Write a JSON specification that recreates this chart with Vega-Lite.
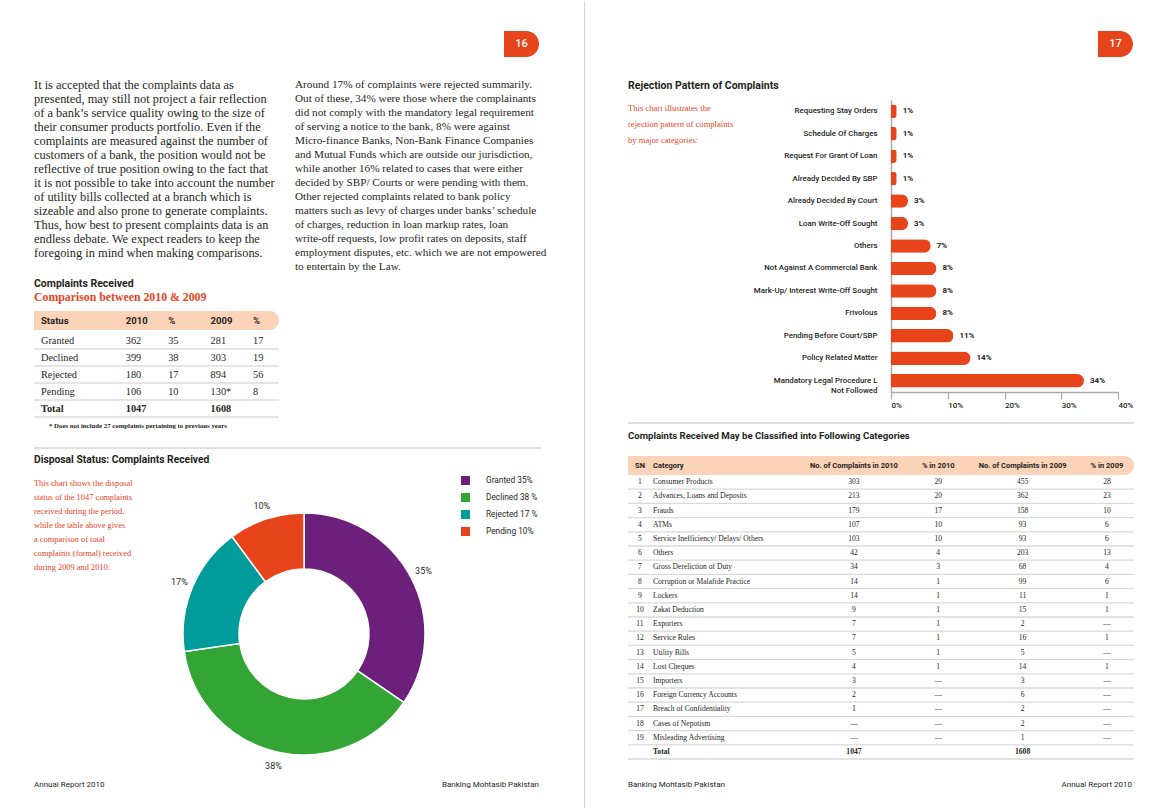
{
"$schema": "https://vega.github.io/schema/vega-lite/v6.json",
"background": "white",
"padding": {"left": 33, "top": 0, "right": 0, "bottom": 0},
"config": {"view": {"stroke": null}, "concat": {"spacing": 0}, "axis": {"labelFont": "Roboto"}, "legend": {"labelFont": "Roboto"}},
"spacing": 36.5,
"hconcat": [
{"spacing": 0, "vconcat": [
  {"width": 512, "height": 30, "data": {"values": []}, "mark": "point"},
  {"bounds": "flush", "spacing": 0, "hconcat": [
    {"width": 470, "height": 26, "data": {"values": []}, "mark": "point"},
    {"width": 35, "height": 26, "data": {"values": [{"page": "16"}]},
     "layer": [
       {"mark": {"type": "rect", "color": "#e8441c", "cornerRadiusTopRight": 13, "cornerRadiusBottomRight": 13}, "encoding": {}},
       {"mark": {"type": "text", "font": "Roboto", "fontSize": 11, "fontWeight": 500, "color": "white"}, "encoding": {"text": {"field": "page"}}}
     ]}
  ]},
  {"bounds": "flush", "spacing": 0, "vconcat": [
    {"width": 1, "height": 21, "data": {"values": []}, "mark": "point"},
    {"width": 507, "height": 196,
     "data": {"values": [
       {"col": "left", "line": 1, "text": "It is accepted that the complaints data as"},
       {"col": "left", "line": 2, "text": "presented, may still not project a fair reflection"},
       {"col": "left", "line": 3, "text": "of a bank’s service quality owing to the size of"},
       {"col": "left", "line": 4, "text": "their consumer products portfolio. Even if the"},
       {"col": "left", "line": 5, "text": "complaints are measured against the number of"},
       {"col": "left", "line": 6, "text": "customers of a bank, the position would not be"},
       {"col": "left", "line": 7, "text": "reflective of true position owing to the fact that"},
       {"col": "left", "line": 8, "text": "it is not possible to take into account the number"},
       {"col": "left", "line": 9, "text": "of utility bills collected at a branch which is"},
       {"col": "left", "line": 10, "text": "sizeable and also prone to generate complaints."},
       {"col": "left", "line": 11, "text": "Thus, how best to present complaints data is an"},
       {"col": "left", "line": 12, "text": "endless debate. We expect readers to keep the"},
       {"col": "left", "line": 13, "text": "foregoing in mind when making comparisons."},
       {"col": "right", "line": 1, "text": "Around 17% of complaints were rejected summarily."},
       {"col": "right", "line": 2, "text": "Out of these, 34% were those where the complainants"},
       {"col": "right", "line": 3, "text": "did not comply with the mandatory legal requirement"},
       {"col": "right", "line": 4, "text": "of serving a notice to the bank, 8% were against"},
       {"col": "right", "line": 5, "text": "Micro-finance Banks, Non-Bank Finance Companies"},
       {"col": "right", "line": 6, "text": "and Mutual Funds which are outside our jurisdiction,"},
       {"col": "right", "line": 7, "text": "while another 16% related to cases that were either"},
       {"col": "right", "line": 8, "text": "decided by SBP/ Courts or were pending with them."},
       {"col": "right", "line": 9, "text": "Other rejected complaints related to bank policy"},
       {"col": "right", "line": 10, "text": "matters such as levy of charges under banks’ schedule"},
       {"col": "right", "line": 11, "text": "of charges, reduction in loan markup rates, loan"},
       {"col": "right", "line": 12, "text": "write-off requests, low profit rates on deposits, staff"},
       {"col": "right", "line": 13, "text": "employment disputes, etc. which we are not empowered"},
       {"col": "right", "line": 14, "text": "to entertain by the Law."}
     ]},
     "encoding": {
       "x": {"field": "col", "type": "nominal", "scale": {"type": "point", "domain": ["left", "right"], "padding": 0.4713, "align": 0}, "axis": null},
       "y": {"field": "line", "type": "ordinal", "axis": null},
       "text": {"field": "text"}},
     "layer": [
       {"transform": [{"filter": "datum.col == 'left'"}], "mark": {"type": "text", "align": "left", "font": "Liberation Serif", "fontSize": 12.4, "color": "#231f20"}},
       {"transform": [{"filter": "datum.col == 'right'"}], "mark": {"type": "text", "align": "left", "font": "Liberation Serif", "fontSize": 11.2, "color": "#231f20"}}
     ]},
    {"width": 1, "height": 2.5, "data": {"values": []}, "mark": "point"},
    {"width": 245, "height": 26,
     "data": {"values": [{"line": 1, "text": "Complaints Received"}, {"line": 2, "text": "Comparison between 2010 & 2009"}]},
     "encoding": {"x": {"datum": 0, "type": "quantitative", "scale": {"domain": [0, 1]}, "axis": null}, "y": {"field": "line", "type": "ordinal", "axis": null}, "text": {"field": "text"}},
     "layer": [
       {"transform": [{"filter": "datum.line == 1"}], "mark": {"type": "text", "align": "left", "font": "Roboto", "fontWeight": "bold", "fontSize": 10.5, "color": "#231f20"}},
       {"transform": [{"filter": "datum.line == 2"}], "mark": {"type": "text", "align": "left", "font": "Liberation Serif", "fontWeight": "bold", "fontSize": 11.8, "color": "#e8441c"}}
     ]},
    {"width": 1, "height": 7.5, "data": {"values": []}, "mark": "point"},
    {"width": 245, "height": 19,
     "data": {"values": [{"col": "status", "label": "Status"}, {"col": "y2010", "label": "2010"}, {"col": "p2010", "label": "%"}, {"col": "y2009", "label": "2009"}, {"col": "p2009", "label": "%"}]},
     "layer": [
       {"transform": [{"filter": "datum.col == 'status'"}], "mark": {"type": "rect", "color": "#fbd3b9", "cornerRadiusTopRight": 9.5, "cornerRadiusBottomRight": 9.5}, "encoding": {}},
       {"mark": {"type": "text", "align": "left", "font": "Roboto", "fontWeight": "bold", "fontSize": 9.5, "color": "#231f20"},
        "encoding": {"x": {"field": "col", "type": "nominal", "scale": {"type": "point", "domain": ["status", "gap", "y2010", "p2010", "y2009", "p2009"], "padding": 0.389, "align": 0.212}, "axis": null}, "text": {"field": "label"}}}
     ]},
    {"width": 1, "height": 1.5, "data": {"values": []}, "mark": "point"},
    {"width": 245, "height": 85,
     "data": {"values": [
       {"status": "Granted", "y2010": "362", "p2010": "35", "y2009": "281", "p2009": "17"},
       {"status": "Declined", "y2010": "399", "p2010": "38", "y2009": "303", "p2009": "19"},
       {"status": "Rejected", "y2010": "180", "p2010": "17", "y2009": "894", "p2009": "56"},
       {"status": "Pending", "y2010": "106", "p2010": "10", "y2009": "130*", "p2009": "8"},
       {"status": "Total", "y2010": "1047", "p2010": "", "y2009": "1608", "p2009": ""}
     ]},
     "layer": [
       {"mark": {"type": "rule", "color": "#dcdcdc", "strokeWidth": 1.5},
        "encoding": {"y": {"field": "status", "type": "nominal", "bandPosition": 1, "scale": {"type": "band", "domain": ["Granted", "Declined", "Rejected", "Pending", "Total"], "paddingInner": 0, "paddingOuter": 0}, "axis": null}}},
       {"transform": [{"fold": ["status", "y2010", "p2010", "y2009", "p2009"], "as": ["col", "val"]}, {"filter": "datum.status != 'Total'"}],
        "mark": {"type": "text", "align": "left", "font": "Liberation Serif", "fontSize": 10.3, "color": "#231f20"},
        "encoding": {
          "x": {"field": "col", "type": "nominal", "scale": {"type": "point", "domain": ["status", "gap", "y2010", "p2010", "y2009", "p2009"], "padding": 0.389, "align": 0.212}, "axis": null},
          "y": {"field": "status", "type": "nominal", "scale": {"type": "band", "domain": ["Granted", "Declined", "Rejected", "Pending", "Total"], "paddingInner": 0, "paddingOuter": 0}, "axis": null},
          "text": {"field": "val"}}},
       {"transform": [{"fold": ["status", "y2010", "p2010", "y2009", "p2009"], "as": ["col", "val"]}, {"filter": "datum.status == 'Total'"}],
        "mark": {"type": "text", "align": "left", "font": "Liberation Serif", "fontWeight": "bold", "fontSize": 10.3, "color": "#231f20"},
        "encoding": {
          "x": {"field": "col", "type": "nominal", "scale": {"type": "point", "domain": ["status", "gap", "y2010", "p2010", "y2009", "p2009"], "padding": 0.389, "align": 0.212}, "axis": null},
          "y": {"field": "status", "type": "nominal", "scale": {"type": "band", "domain": ["Granted", "Declined", "Rejected", "Pending", "Total"], "paddingInner": 0, "paddingOuter": 0}, "axis": null},
          "text": {"field": "val"}}}
     ]},
    {"width": 1, "height": 2.5, "data": {"values": []}, "mark": "point"},
    {"width": 245, "height": 12,
     "data": {"values": [{"k": "fn", "note": "* Does not include 27 complaints pertaining to previous years"}]},
     "mark": {"type": "text", "align": "left", "font": "Liberation Serif", "fontWeight": "bold", "fontSize": 6.8, "color": "#231f20"},
     "encoding": {"x": {"field": "k", "type": "nominal", "scale": {"type": "point", "domain": ["fn"], "padding": 0, "align": 0.0612}, "axis": null}, "text": {"field": "note"}}},
    {"width": 1, "height": 15, "data": {"values": []}, "mark": "point"},
    {"width": 507, "height": 2, "data": {"values": [{"r": 1}]},
     "mark": {"type": "rule", "color": "#bdbdbd", "strokeWidth": 1.2},
     "encoding": {"y": {"datum": 0.5, "type": "quantitative", "scale": {"domain": [0, 1]}, "axis": null}}},
    {"width": 1, "height": 5, "data": {"values": []}, "mark": "point"},
    {"width": 300, "height": 12,
     "data": {"values": [{"t": "Disposal Status: Complaints Received"}]},
     "mark": {"type": "text", "align": "left", "font": "Roboto", "fontWeight": "bold", "fontSize": 10.3, "color": "#231f20"},
     "encoding": {"x": {"datum": 0, "type": "quantitative", "scale": {"domain": [0, 1]}, "axis": null}, "text": {"field": "t"}}},
    {"width": 1, "height": 10, "data": {"values": []}, "mark": "point"}
  ]},
  {"width": 507, "height": 298,
   "resolve": {"scale": {"y": "independent"}},
   "layer": [
     {"data": {"values": [
       {"line": 1, "text": "This chart shows the disposal"},
       {"line": 2, "text": "status of the 1047 complaints"},
       {"line": 3, "text": "received during the period,"},
       {"line": 4, "text": "while the table above gives"},
       {"line": 5, "text": "a comparison of total"},
       {"line": 6, "text": "complaints (formal) received"},
       {"line": 7, "text": "during 2009 and 2010:"}
     ]},
      "mark": {"type": "text", "align": "left", "font": "Liberation Serif", "fontSize": 8.4, "color": "#e8441c"},
      "encoding": {
        "x": {"datum": "note", "type": "nominal", "scale": {"type": "point", "domain": ["note", "donut"], "padding": 0.4389, "align": 0}, "axis": null},
        "y": {"field": "line", "type": "quantitative", "scale": {"domain": [0.5, 21.7857], "reverse": true, "nice": false, "zero": false}, "axis": null},
        "text": {"field": "text"}}},
     {"data": {"values": [
         {"status": "Granted", "count": 362, "pct": "35%", "order": 1, "legendLabel": "Granted 35%"},
         {"status": "Declined", "count": 399, "pct": "38%", "order": 2, "legendLabel": "Declined 38 %"},
         {"status": "Rejected", "count": 180, "pct": "17%", "order": 3, "legendLabel": "Rejected 17 %"},
         {"status": "Pending", "count": 106, "pct": "10%", "order": 4, "legendLabel": "Pending 10%"}
       ]},
      "encoding": {
        "x": {"datum": "donut", "type": "nominal", "scale": {"type": "point", "domain": ["note", "donut"], "padding": 0.4389, "align": 0}, "axis": null},
        "y": {"datum": "centre", "type": "nominal", "scale": {"type": "point", "domain": ["centre"], "padding": 0, "align": 0.5302}, "axis": null},
        "theta": {"field": "count", "type": "quantitative", "stack": true},
        "order": {"field": "order", "type": "quantitative"}
      },
      "layer": [
        {"mark": {"type": "arc", "outerRadius": 121, "innerRadius": 65, "stroke": "white", "strokeWidth": 1.5},
         "encoding": {"color": {"field": "legendLabel", "type": "nominal",
           "scale": {"domain": ["Granted 35%", "Declined 38 %", "Rejected 17 %", "Pending 10%"], "range": ["#6c1f7b", "#33a535", "#009b9b", "#e8441c"]},
           "legend": {"orient": "none", "legendX": 427, "legendY": 475, "title": null, "padding": 0, "symbolType": "square", "symbolSize": 81, "symbolStrokeWidth": 0, "symbolOpacity": 1, "labelFontSize": 8.3, "labelColor": "#231f20", "labelOffset": 16, "rowPadding": 7}}}},
        {"mark": {"type": "text", "radius": 135, "font": "Roboto", "fontSize": 9, "color": "#231f20"},
         "encoding": {"text": {"field": "pct"}, "detail": {"field": "legendLabel"}}}
      ]}
   ]},
  {"bounds": "flush", "spacing": 0, "vconcat": [
    {"width": 1, "height": 5, "data": {"values": []}, "mark": "point"},
    {"width": 505, "height": 12,
     "data": {"values": [{"side": "left", "text": "Annual Report 2010"}, {"side": "right", "text": "Banking Mohtasib Pakistan"}]},
     "encoding": {"x": {"field": "side", "type": "nominal", "scale": {"type": "point", "domain": ["left", "right"], "padding": 0}, "axis": null}, "text": {"field": "text"}},
     "layer": [
       {"transform": [{"filter": "datum.side == 'left'"}], "mark": {"type": "text", "align": "left", "font": "Roboto", "fontSize": 8, "color": "#231f20"}},
       {"transform": [{"filter": "datum.side == 'right'"}], "mark": {"type": "text", "align": "right", "font": "Roboto", "fontSize": 8, "color": "#231f20"}}
     ]}
  ]}
]},
{"width": 6, "height": 808, "data": {"values": [{"k": 1}]},
 "mark": {"type": "rule", "color": "#d6d6d6", "strokeWidth": 1},
 "encoding": {"x": {"datum": 0, "type": "quantitative", "scale": {"domain": [0, 1]}, "axis": null}}},
{"spacing": 0, "vconcat": [
  {"width": 506, "height": 30, "data": {"values": []}, "mark": "point"},
  {"bounds": "flush", "spacing": 0, "hconcat": [
    {"width": 470, "height": 26, "data": {"values": []}, "mark": "point"},
    {"width": 35, "height": 26, "data": {"values": [{"page": "17"}]},
     "layer": [
       {"mark": {"type": "rect", "color": "#e8441c", "cornerRadiusTopRight": 13, "cornerRadiusBottomRight": 13}, "encoding": {}},
       {"mark": {"type": "text", "font": "Roboto", "fontSize": 11, "fontWeight": 500, "color": "white"}, "encoding": {"text": {"field": "page"}}}
     ]}
  ]},
  {"width": 1, "height": 23, "data": {"values": []}, "mark": "point"},
  {"width": 300, "height": 12,
   "data": {"values": [{"t": "Rejection Pattern of Complaints"}]},
   "mark": {"type": "text", "align": "left", "font": "Roboto", "fontWeight": "bold", "fontSize": 10.5, "color": "#231f20"},
   "encoding": {"x": {"datum": 0, "type": "quantitative", "scale": {"domain": [0, 1]}, "axis": null}, "text": {"field": "t"}}},
  {"width": 1, "height": 8, "data": {"values": []}, "mark": "point"},
  {"bounds": "flush", "spacing": 0, "hconcat": [
    {"width": 263, "height": 48,
     "data": {"values": [
       {"line": 1, "text": "This chart illustrates the"},
       {"line": 2, "text": "rejection pattern of complaints"},
       {"line": 3, "text": "by major categories:"}
     ]},
     "mark": {"type": "text", "align": "left", "font": "Liberation Serif", "fontSize": 8.6, "color": "#e8441c"},
     "encoding": {"x": {"datum": 0, "type": "quantitative", "scale": {"domain": [0, 1]}, "axis": null}, "y": {"field": "line", "type": "ordinal", "axis": null}, "text": {"field": "text"}}},
    {"width": 227, "height": 292,
     "data": {"values": [
       {"cat": "Requesting Stay Orders", "pct": 1, "label": "1%"},
       {"cat": "Schedule Of Charges", "pct": 1, "label": "1%"},
       {"cat": "Request For Grant Of Loan", "pct": 1, "label": "1%"},
       {"cat": "Already Decided By SBP", "pct": 1, "label": "1%"},
       {"cat": "Already Decided By Court", "pct": 3, "label": "3%"},
       {"cat": "Loan Write-Off Sought", "pct": 3, "label": "3%"},
       {"cat": "Others", "pct": 7, "label": "7%"},
       {"cat": "Not Against A Commercial Bank", "pct": 8, "label": "8%"},
       {"cat": "Mark-Up/ Interest Write-Off Sought", "pct": 8, "label": "8%"},
       {"cat": "Frivolous", "pct": 8, "label": "8%"},
       {"cat": "Pending Before Court/SBP", "pct": 11, "label": "11%"},
       {"cat": "Policy Related Matter", "pct": 14, "label": "14%"},
       {"cat": "Mandatory Legal Procedure L Not Followed", "pct": 34, "label": "34%"}
     ]},
     "encoding": {
       "y": {"field": "cat", "type": "nominal", "sort": null, "scale": {"paddingInner": 0.4, "paddingOuter": 0.2},
             "axis": {"title": null, "ticks": false, "domainColor": "#aaaaaa", "domainWidth": 1.5, "labelFont": "Roboto", "labelFontSize": 7.9, "labelFontWeight": 500, "labelColor": "#231f20", "labelPadding": 14, "labelLimit": 0,
                      "labelExpr": "indexof(datum.value, 'Mandatory') == 0 ? ['Mandatory Legal Procedure L', 'Not Followed'] : datum.value"}},
       "x": {"field": "pct", "type": "quantitative", "scale": {"domain": [0, 40], "nice": false},
             "axis": {"title": null, "grid": false, "values": [0, 10, 20, 30, 40], "labelExpr": "datum.value + '%'", "labelAlign": "left", "labelFont": "Roboto", "labelFontSize": 8, "labelFontWeight": 500, "labelColor": "#231f20", "labelPadding": 2, "tickSize": 7, "tickColor": "#aaaaaa", "tickWidth": 1.2, "domainColor": "#aaaaaa", "domainWidth": 1.5}}
     },
     "layer": [
       {"mark": {"type": "bar", "color": "#e8441c", "cornerRadiusEnd": 6.7}},
       {"mark": {"type": "text", "align": "left", "dx": 6, "font": "Roboto", "fontSize": 8, "fontWeight": "bold", "color": "#231f20"}, "encoding": {"text": {"field": "label"}}}
     ]}
  ]},
  {"width": 1, "height": 13, "data": {"values": []}, "mark": "point"},
  {"width": 506, "height": 2, "data": {"values": [{"r": 1}]},
   "mark": {"type": "rule", "color": "#bdbdbd", "strokeWidth": 1.2},
   "encoding": {"y": {"datum": 0.5, "type": "quantitative", "scale": {"domain": [0, 1]}, "axis": null}}},
  {"width": 1, "height": 6, "data": {"values": []}, "mark": "point"},
  {"width": 400, "height": 12,
   "data": {"values": [{"t": "Complaints Received May be Classified into Following Categories"}]},
   "mark": {"type": "text", "align": "left", "font": "Roboto", "fontWeight": "bold", "fontSize": 9.6, "color": "#231f20"},
   "encoding": {"x": {"datum": 0, "type": "quantitative", "scale": {"domain": [0, 1]}, "axis": null}, "text": {"field": "t"}}},
  {"width": 1, "height": 14, "data": {"values": []}, "mark": "point"},
  {"width": 506, "height": 19,
   "data": {"values": [{"col": "sn", "label": "SN"}, {"col": "category", "label": "Category"}, {"col": "c2010", "label": "No. of Complaints in 2010"}, {"col": "p2010", "label": "% in 2010"}, {"col": "c2009", "label": "No. of Complaints in 2009"}, {"col": "p2009", "label": "% in 2009"}]},
   "resolve": {"scale": {"x": "independent"}},
   "layer": [
     {"transform": [{"filter": "datum.col == 'sn'"}], "mark": {"type": "rect", "color": "#fbd3b9", "cornerRadiusTopRight": 9.5, "cornerRadiusBottomRight": 9.5}, "encoding": {}},
     {"transform": [{"filter": "datum.col == 'sn'"}], "mark": {"type": "text", "align": "center", "font": "Roboto", "fontWeight": "bold", "fontSize": 7.5, "color": "#231f20"},
      "encoding": {"x": {"field": "col", "type": "nominal", "scale": {"type": "point", "domain": ["sn"], "padding": 0, "align": 0.02372}, "axis": null}, "text": {"field": "label"}}},
     {"transform": [{"filter": "datum.col == 'category'"}], "mark": {"type": "text", "align": "left", "font": "Roboto", "fontWeight": "bold", "fontSize": 7.5, "color": "#231f20"},
      "encoding": {"x": {"field": "col", "type": "nominal", "scale": {"type": "point", "domain": ["category"], "padding": 0, "align": 0.04941}, "axis": null}, "text": {"field": "label"}}},
     {"transform": [{"filter": "indexof(['c2010','p2010','c2009','p2009'], datum.col) >= 0"}], "mark": {"type": "text", "align": "center", "font": "Roboto", "fontWeight": "bold", "fontSize": 7.5, "color": "#231f20"},
      "encoding": {"x": {"field": "col", "type": "nominal", "scale": {"type": "point", "domain": ["d1", "d2", "c2010", "p2010", "c2009", "p2009"], "padding": 0.5, "align": 0.679}, "axis": null}, "text": {"field": "label"}}}
   ]},
  {"width": 506, "height": 284,
   "data": {"values": [
     {"row": 1, "sn": "1", "category": "Consumer Products", "c2010": "303", "p2010": "29", "c2009": "455", "p2009": "28"},
     {"row": 2, "sn": "2", "category": "Advances, Loans and Deposits", "c2010": "213", "p2010": "20", "c2009": "362", "p2009": "23"},
     {"row": 3, "sn": "3", "category": "Frauds", "c2010": "179", "p2010": "17", "c2009": "158", "p2009": "10"},
     {"row": 4, "sn": "4", "category": "ATMs", "c2010": "107", "p2010": "10", "c2009": "93", "p2009": "6"},
     {"row": 5, "sn": "5", "category": "Service Inefficiency/ Delays/ Others", "c2010": "103", "p2010": "10", "c2009": "93", "p2009": "6"},
     {"row": 6, "sn": "6", "category": "Others", "c2010": "42", "p2010": "4", "c2009": "203", "p2009": "13"},
     {"row": 7, "sn": "7", "category": "Gross Dereliction of Duty", "c2010": "34", "p2010": "3", "c2009": "68", "p2009": "4"},
     {"row": 8, "sn": "8", "category": "Corruption or Malafide Practice", "c2010": "14", "p2010": "1", "c2009": "99", "p2009": "6"},
     {"row": 9, "sn": "9", "category": "Lockers", "c2010": "14", "p2010": "1", "c2009": "11", "p2009": "1"},
     {"row": 10, "sn": "10", "category": "Zakat Deduction", "c2010": "9", "p2010": "1", "c2009": "15", "p2009": "1"},
     {"row": 11, "sn": "11", "category": "Exporters", "c2010": "7", "p2010": "1", "c2009": "2", "p2009": "—"},
     {"row": 12, "sn": "12", "category": "Service Rules", "c2010": "7", "p2010": "1", "c2009": "16", "p2009": "1"},
     {"row": 13, "sn": "13", "category": "Utility Bills", "c2010": "5", "p2010": "1", "c2009": "5", "p2009": "—"},
     {"row": 14, "sn": "14", "category": "Lost Cheques", "c2010": "4", "p2010": "1", "c2009": "14", "p2009": "1"},
     {"row": 15, "sn": "15", "category": "Importers", "c2010": "3", "p2010": "—", "c2009": "3", "p2009": "—"},
     {"row": 16, "sn": "16", "category": "Foreign Currency Accounts", "c2010": "2", "p2010": "—", "c2009": "6", "p2009": "—"},
     {"row": 17, "sn": "17", "category": "Breach of Confidentiality", "c2010": "1", "p2010": "—", "c2009": "2", "p2009": "—"},
     {"row": 18, "sn": "18", "category": "Cases of Nepotism", "c2010": "—", "p2010": "—", "c2009": "2", "p2009": "—"},
     {"row": 19, "sn": "19", "category": "Misleading Advertising", "c2010": "—", "p2010": "—", "c2009": "1", "p2009": "—"},
     {"row": 20, "sn": "", "category": "Total", "c2010": "1047", "p2010": "", "c2009": "1608", "p2009": ""}
   ]},
   "resolve": {"scale": {"x": "independent"}},
   "layer": [
     {"mark": {"type": "rule", "color": "#d9d9d9", "strokeWidth": 1.3},
      "encoding": {"y": {"field": "row", "type": "ordinal", "bandPosition": 1, "scale": {"type": "band", "paddingInner": 0, "paddingOuter": 0}, "axis": null}}},
     {"transform": [{"fold": ["sn", "category", "c2010", "p2010", "c2009", "p2009"], "as": ["col", "val"]}, {"filter": "datum.col == 'sn' && datum.row < 20"}],
      "mark": {"type": "text", "align": "center", "font": "Liberation Serif", "fontSize": 7.6, "color": "#231f20"},
      "encoding": {"x": {"field": "col", "type": "nominal", "scale": {"type": "point", "domain": ["sn"], "padding": 0, "align": 0.02372}, "axis": null},
                   "y": {"field": "row", "type": "ordinal", "scale": {"type": "band", "paddingInner": 0, "paddingOuter": 0}, "axis": null}, "text": {"field": "val"}}},
     {"transform": [{"fold": ["sn", "category", "c2010", "p2010", "c2009", "p2009"], "as": ["col", "val"]}, {"filter": "datum.col == 'category' && datum.row < 20"}],
      "mark": {"type": "text", "align": "left", "font": "Liberation Serif", "fontSize": 7.6, "color": "#231f20"},
      "encoding": {"x": {"field": "col", "type": "nominal", "scale": {"type": "point", "domain": ["category"], "padding": 0, "align": 0.04941}, "axis": null},
                   "y": {"field": "row", "type": "ordinal", "scale": {"type": "band", "paddingInner": 0, "paddingOuter": 0}, "axis": null}, "text": {"field": "val"}}},
     {"transform": [{"fold": ["sn", "category", "c2010", "p2010", "c2009", "p2009"], "as": ["col", "val"]}, {"filter": "datum.col == 'category' && datum.row == 20"}],
      "mark": {"type": "text", "align": "left", "font": "Liberation Serif", "fontWeight": "bold", "fontSize": 7.6, "color": "#231f20"},
      "encoding": {"x": {"field": "col", "type": "nominal", "scale": {"type": "point", "domain": ["category"], "padding": 0, "align": 0.04941}, "axis": null},
                   "y": {"field": "row", "type": "ordinal", "scale": {"type": "band", "paddingInner": 0, "paddingOuter": 0}, "axis": null}, "text": {"field": "val"}}},
     {"transform": [{"fold": ["sn", "category", "c2010", "p2010", "c2009", "p2009"], "as": ["col", "val"]}, {"filter": "indexof(['c2010','p2010','c2009','p2009'], datum.col) >= 0 && datum.row < 20"}],
      "mark": {"type": "text", "align": "center", "font": "Liberation Serif", "fontSize": 7.6, "color": "#231f20"},
      "encoding": {"x": {"field": "col", "type": "nominal", "scale": {"type": "point", "domain": ["d1", "d2", "c2010", "p2010", "c2009", "p2009"], "padding": 0.5, "align": 0.679}, "axis": null},
                   "y": {"field": "row", "type": "ordinal", "scale": {"type": "band", "paddingInner": 0, "paddingOuter": 0}, "axis": null}, "text": {"field": "val"}}},
     {"transform": [{"fold": ["sn", "category", "c2010", "p2010", "c2009", "p2009"], "as": ["col", "val"]}, {"filter": "indexof(['c2010','p2010','c2009','p2009'], datum.col) >= 0 && datum.row == 20"}],
      "mark": {"type": "text", "align": "center", "font": "Liberation Serif", "fontWeight": "bold", "fontSize": 7.6, "color": "#231f20"},
      "encoding": {"x": {"field": "col", "type": "nominal", "scale": {"type": "point", "domain": ["d1", "d2", "c2010", "p2010", "c2009", "p2009"], "padding": 0.5, "align": 0.679}, "axis": null},
                   "y": {"field": "row", "type": "ordinal", "scale": {"type": "band", "paddingInner": 0, "paddingOuter": 0}, "axis": null}, "text": {"field": "val"}}}
   ]},
  {"width": 1, "height": 19, "data": {"values": []}, "mark": "point"},
  {"width": 504, "height": 12,
   "data": {"values": [{"side": "left", "text": "Banking Mohtasib Pakistan"}, {"side": "right", "text": "Annual Report 2010"}]},
   "encoding": {"x": {"field": "side", "type": "nominal", "scale": {"type": "point", "domain": ["left", "right"], "padding": 0}, "axis": null}, "text": {"field": "text"}},
   "layer": [
     {"transform": [{"filter": "datum.side == 'left'"}], "mark": {"type": "text", "align": "left", "font": "Roboto", "fontSize": 8, "color": "#231f20"}},
     {"transform": [{"filter": "datum.side == 'right'"}], "mark": {"type": "text", "align": "right", "font": "Roboto", "fontSize": 8, "color": "#231f20"}}
   ]}
]}
]
}
